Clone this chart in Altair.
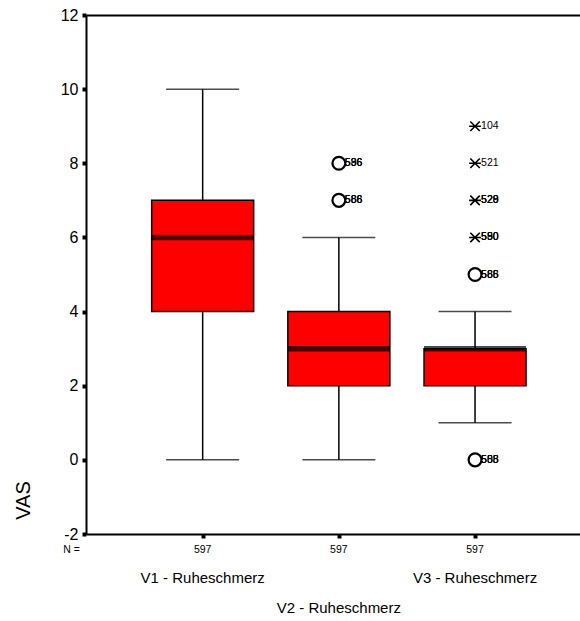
import altair as alt
import pandas as pd

# Box plot summary of VAS rest pain at three visits
groups = ["V1 - Ruheschmerz", "V2 - Ruheschmerz", "V3 - Ruheschmerz"]
pos = [1, 2, 3]
n_cases = [597, 597, 597]
w_low = [0, 0, 1]
q1 = [4, 2, 2]
median = [6, 3, 3]
q3 = [7, 4, 3]
w_high = [10, 6, 4]
label_row = [0, 1, 0]

# outliers: (position, value, kind, case labels); kind "o" = outlier, "*" = extreme
out_pos = [2, 2, 3, 3, 3, 3, 3, 3]
out_val = [8, 7, 9, 8, 7, 6, 5, 0]
out_kind = ["o", "o", "*", "*", "*", "*", "o", "o"]
out_cases = [
    ["536", "596", "586"],
    ["586", "566", "588"],
    ["104"],
    ["521"],
    ["520", "528", "529"],
    ["550", "580", "590"],
    ["566", "585", "588"],
    ["508", "555", "588"],
]

W, H = 494, 519
FONT = "Liberation Sans"

box = pd.DataFrame(dict(group=groups, pos=pos, n=n_cases, lo=w_low, q1=q1,
                        med=median, q3=q3, hi=w_high, row=label_row))
outs = pd.DataFrame(dict(pos=out_pos, val=out_val, kind=out_kind))
labels = pd.DataFrame(
    [dict(pos=p, val=v, case=c) for p, v, cs in zip(out_pos, out_val, out_cases) for c in cs]
)

xs = alt.Scale(domain=[0.18, 3.734], nice=False, zero=False)
ys = alt.Scale(domain=[-2, 12], nice=False, zero=False)

x_bottom = alt.X("pos:Q", scale=xs, axis=alt.Axis(
    orient="bottom", values=pos, labels=False, title=None, grid=False,
    domainColor="black", domainWidth=2, tickColor="black", tickSize=4, tickWidth=4))
x_top = alt.X("pos:Q", scale=xs, axis=alt.Axis(
    orient="top", labels=False, ticks=False, title=None, grid=False,
    domainColor="black", domainWidth=2))
x_plain = alt.X("pos:Q", scale=xs, axis=None)

y_axis = alt.Y("lo:Q", scale=ys, axis=alt.Axis(
    values=list(range(-2, 13, 2)), grid=False, title="VAS",
    labelExpr="toString(datum.value)",
    domainColor="black", domainWidth=2, tickColor="black", tickSize=4, tickWidth=4,
    labelFont=FONT, labelFontSize=16, labelColor="black", labelPadding=4,
    titleFont=FONT, titleFontSize=20, titleFontWeight="normal", titleColor="black",
    titleAngle=270, titleX=-53, titleY=485, titleAlign="center", titleBaseline="bottom"))

base = alt.Chart(box)

whisker = base.mark_rule(color="black", strokeWidth=1.5).encode(
    x=x_bottom, y=y_axis, y2="hi:Q")
whisker_top = base.mark_rule(color="black", strokeWidth=1.5, opacity=0).encode(
    x=x_top, y=alt.Y("lo:Q", scale=ys), y2="hi:Q")
caps_lo = base.mark_tick(orient="horizontal", size=73, thickness=1.5, color="black").encode(
    x=x_plain, y=alt.Y("lo:Q", scale=ys))
caps_hi = base.mark_tick(orient="horizontal", size=73, thickness=1.5, color="black").encode(
    x=x_plain, y=alt.Y("hi:Q", scale=ys))
boxes = base.mark_bar(size=102, color="#ff0000", stroke="black", strokeWidth=1.5).encode(
    x=x_plain, y=alt.Y("q1:Q", scale=ys), y2="q3:Q")
med_line = base.mark_tick(orient="horizontal", size=102, thickness=5.5, color="black").encode(
    x=x_plain, y=alt.Y("med:Q", scale=ys))

circles = alt.Chart(outs).transform_filter("datum.kind == 'o'").mark_point(
    shape="circle", size=165, filled=False, stroke="black", strokeWidth=2.2, fill="white",
    fillOpacity=1, opacity=1).encode(x=x_plain, y=alt.Y("val:Q", scale=ys))
stars = alt.Chart(outs).transform_filter("datum.kind == '*'").mark_point(
    shape="M-1,0L1,0M-0.8,-0.8L0.8,0.8M-0.8,0.8L0.8,-0.8", size=140, filled=False,
    stroke="black", strokeWidth=1.6, opacity=1).encode(x=x_plain, y=alt.Y("val:Q", scale=ys))
case_text = alt.Chart(labels).mark_text(
    align="left", baseline="middle", dx=6, font=FONT, fontSize=10.5, color="black").encode(
    x=x_plain, y=alt.Y("val:Q", scale=ys), text="case:N")

n_text = base.mark_text(baseline="middle", font=FONT, fontSize=10.5, color="black").encode(
    x=x_plain, y=alt.value(H + 16), text="n:Q")
n_head = alt.Chart(pd.DataFrame({"t": ["N ="]})).mark_text(
    align="right", baseline="middle", font=FONT, fontSize=10.5, color="black").encode(
    x=alt.value(-6), y=alt.value(H + 16), text="t:N")
cat_upper = base.transform_filter("datum.row == 0").mark_text(
    baseline="middle", font=FONT, fontSize=15, color="black").encode(
    x=x_plain, y=alt.value(H + 44), text="group:N")
cat_lower = base.transform_filter("datum.row == 1").mark_text(
    baseline="middle", font=FONT, fontSize=15, color="black").encode(
    x=x_plain, y=alt.value(H + 74), text="group:N")

chart = alt.layer(
    whisker, whisker_top, caps_lo, caps_hi, boxes, med_line,
    circles, stars, case_text, n_text, n_head, cat_upper, cat_lower
).properties(
    width=W, height=H,
    autosize=alt.AutoSizeParams(type="none"),
    padding={"left": 86, "top": 15, "right": 0, "bottom": 87},
    background="white",
).configure_view(stroke=None)

chart.save("out.html", embed_options={"renderer": "svg", "actions": False})
